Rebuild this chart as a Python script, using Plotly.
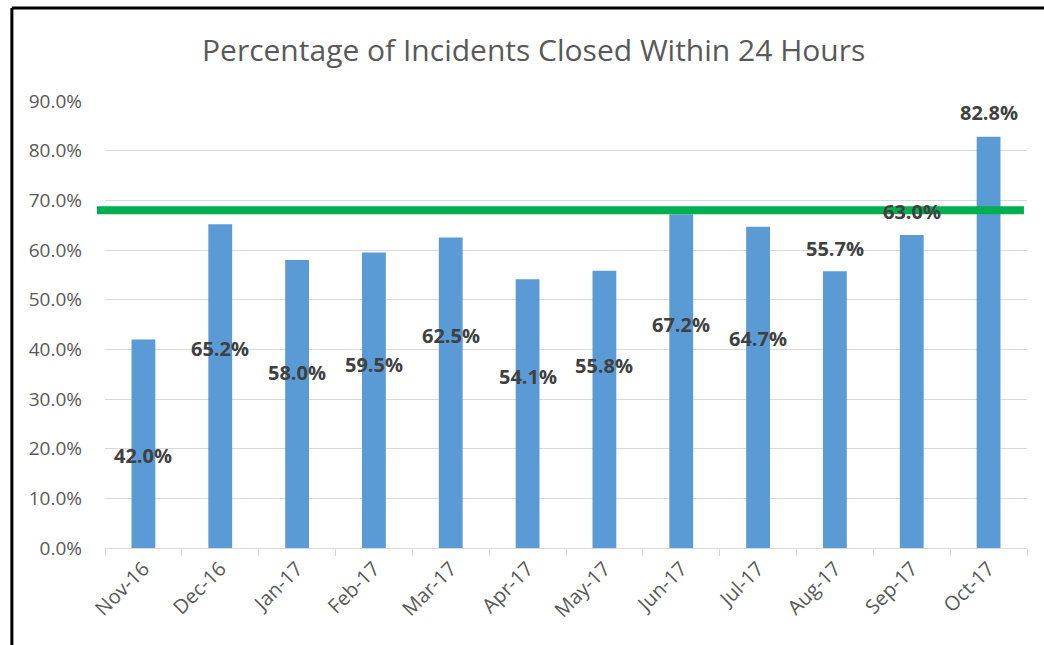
import plotly.graph_objects as go

months = ["Nov-16", "Dec-16", "Jan-17", "Feb-17", "Mar-17", "Apr-17",
          "May-17", "Jun-17", "Jul-17", "Aug-17", "Sep-17", "Oct-17"]
pct_closed = [0.420, 0.652, 0.580, 0.595, 0.625, 0.541,
              0.558, 0.672, 0.647, 0.557, 0.630, 0.828]
target = 0.68
# vertical placement of each data label (as in the source chart)
label_y = [0.186, 0.402, 0.354, 0.370, 0.427, 0.345,
           0.367, 0.451, 0.421, 0.604, 0.677, 0.876]

BAR = "#5B9BD5"
GREEN = "#00B050"
GRID = "#D9D9D9"
TICK = "#595959"
LABEL = "#404040"
FONT = "Open Sans"

fig = go.Figure()
fig.add_trace(go.Bar(x=months, y=pct_closed, marker=dict(color=BAR, line=dict(width=0)),
                     hoverinfo="skip"))

for m, v, ly in zip(months, pct_closed, label_y):
    fig.add_annotation(x=m, y=ly, xref="x", yref="y", text=f"<b>{v*100:.1f}%</b>",
                       showarrow=False, font=dict(family=FONT, size=20, color=LABEL),
                       xanchor="center", yanchor="middle")

# target line
fig.add_shape(type="line", xref="paper", yref="y", x0=-0.0087, x1=0.9967,
              y0=target, y1=target, line=dict(color=GREEN, width=8), layer="above")

# frame (cropped on the right and bottom)
fig.add_shape(type="line", xref="paper", yref="paper", x0=-0.101, x1=1.03,
              y0=1.208, y1=1.208, line=dict(color="#000000", width=3))
fig.add_shape(type="line", xref="paper", yref="paper", x0=-0.101, x1=-0.101,
              y0=1.208, y1=-0.25, line=dict(color="#000000", width=3))

fig.add_annotation(text="Percentage of Incidents Closed Within 24 Hours",
                   xref="paper", yref="paper", x=(533 - 105) / 922, y=(548 - 49) / 447,
                   showarrow=False, xanchor="center", yanchor="middle",
                   font=dict(family=FONT, size=30, color=TICK))

fig.update_layout(
    width=1044, height=645,
    margin=dict(l=105, r=17, t=101, b=97),
    paper_bgcolor="white", plot_bgcolor="white",
    showlegend=False, bargap=0.69,
    font=dict(family=FONT),
)
fig.update_xaxes(type="category", showgrid=False, showline=True, linecolor=GRID, linewidth=1,
                 ticks="outside", tickson="boundaries", ticklen=7, tickcolor=GRID,
                 tickangle=-45, tickfont=dict(family=FONT, size=20, color=TICK))
fig.update_yaxes(range=[0, 0.9], dtick=0.1, tickformat=".1%", showgrid=True, gridcolor=GRID,
                 gridwidth=1, showline=False, zeroline=False, ticks="",
                 ticklabelstandoff=22,
                 tickfont=dict(family=FONT, size=19, color=TICK))

fig.write_html("out.html", config={"displayModeBar": False},
               post_script="document.body.style.margin='0';document.body.style.overflow='hidden';")
